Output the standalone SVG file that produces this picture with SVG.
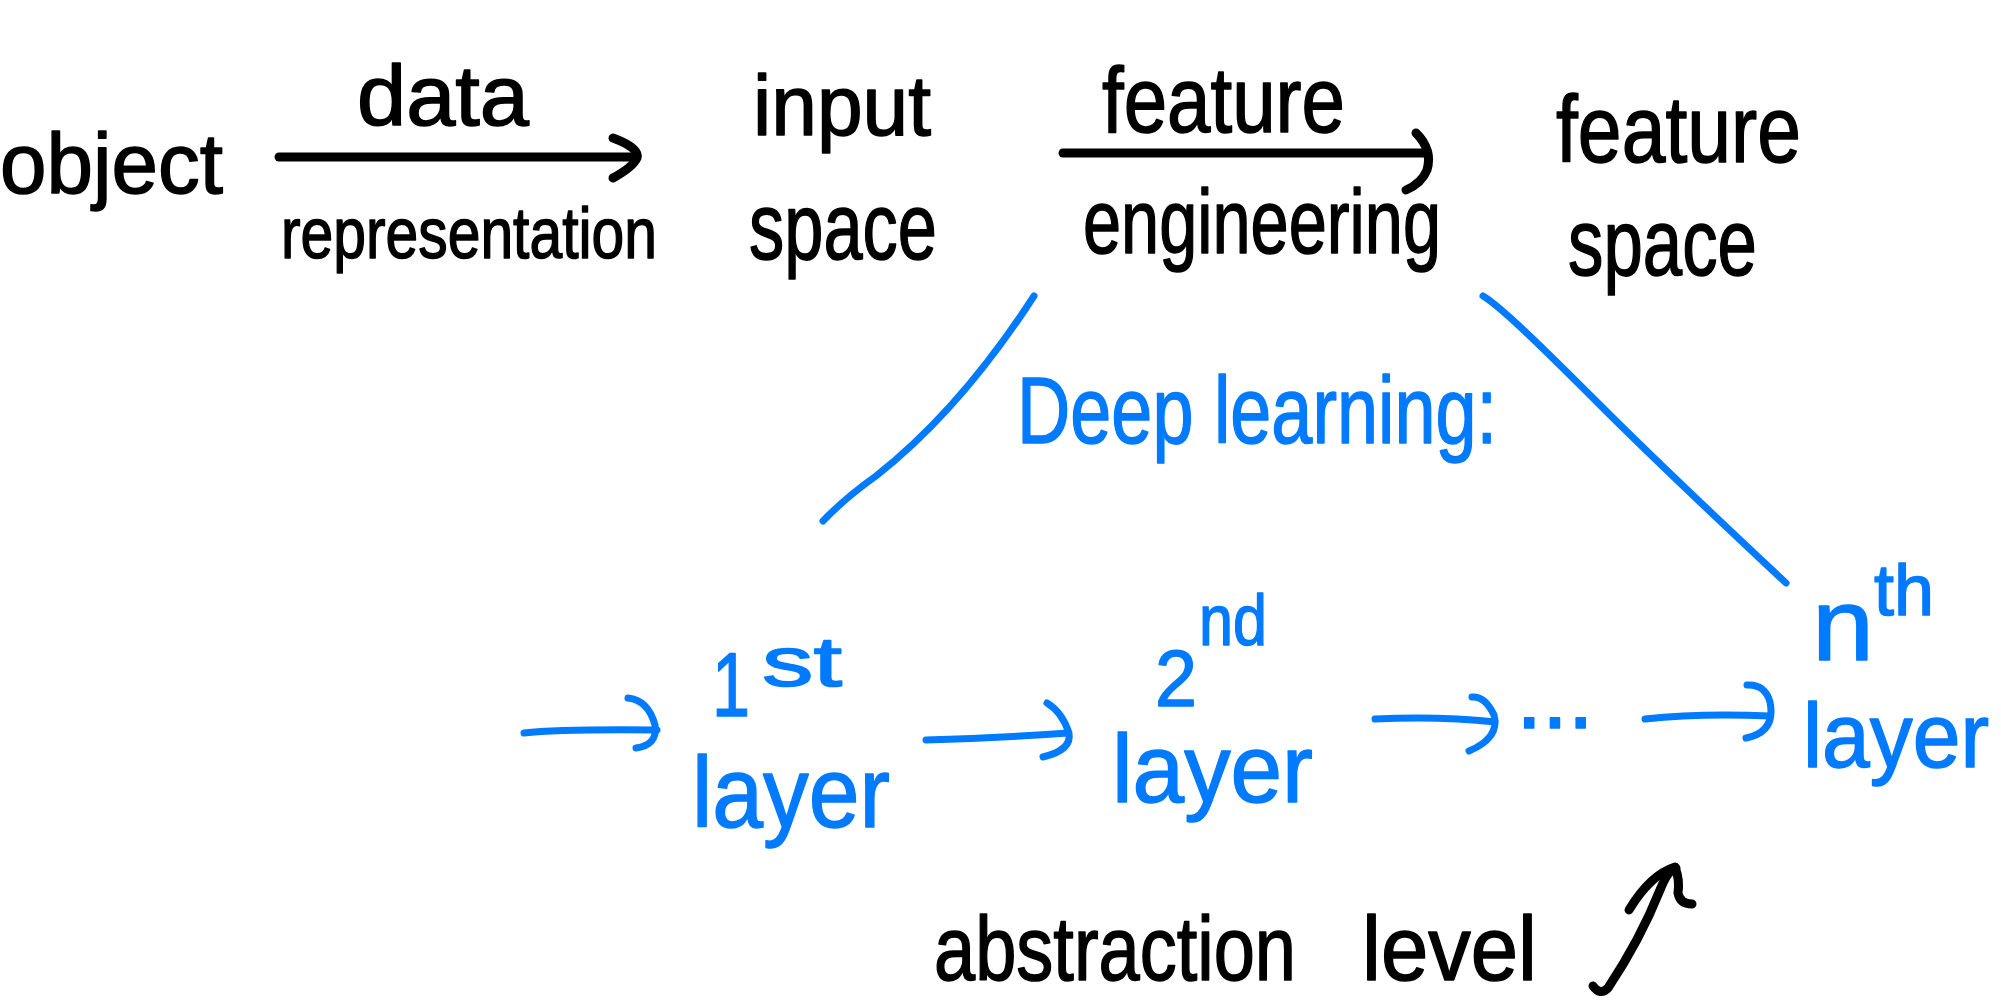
<svg xmlns="http://www.w3.org/2000/svg" width="2001" height="1000" viewBox="0 0 2001 1000">
<style>
.t{font-family:"Liberation Sans",Arial,sans-serif;fill:#000;stroke:#000;stroke-width:1.5;stroke-linejoin:round}
.b{font-family:"Liberation Sans",Arial,sans-serif;fill:#007AFF;stroke:#007AFF;stroke-width:1.5;stroke-linejoin:round}
.k{fill:none;stroke:#000;stroke-width:9;stroke-linecap:round;stroke-linejoin:round}
.bl{fill:none;stroke:#007AFF;stroke-width:7;stroke-linecap:round;stroke-linejoin:round}
</style>
<rect width="2001" height="1000" fill="#fff"/>
<g id="connectors">
  <g id="arrow-data-representation">
    <path class="k" d="M279,157 L632,157"/>
    <path class="k" d="M613,138 Q640,148 637,158 Q633,167 613,178"/>
  </g>
  <g id="arrow-feature-engineering">
    <path class="k" d="M1063,153 L1424,153"/>
    <path class="k" d="M1416,133 Q1433,150 1427,170 Q1422,183 1406,190"/>
  </g>
  <path id="line-left" class="bl" stroke-width="6" d="M1034,296 Q960,410 876,476 Q845,498 823,521"/>
  <path id="line-right" class="bl" stroke-width="6" d="M1483,296 C1500,306 1540,345 1600,405 S1740,540 1786,583"/>
  <g id="arrow-in">
    <path class="bl" d="M524,733 Q560,729 657,730"/>
    <path class="bl" d="M628,698 Q648,700 655,725 Q658,745 636,748"/>
  </g>
  <g id="arrow-1-2">
    <path class="bl" d="M926,740 Q1000,738 1068,733"/>
    <path class="bl" d="M1047,703 Q1062,712 1069,733 Q1072,750 1043,757"/>
  </g>
  <g id="arrow-2-dots">
    <path class="bl" d="M1375,719 Q1440,716 1495,722"/>
    <path class="bl" d="M1472,697 Q1485,696 1494,715 Q1500,738 1469,751"/>
  </g>
  <g id="arrow-dots-n">
    <path class="bl" d="M1645,719 Q1700,713 1770,716"/>
    <path class="bl" d="M1747,685 Q1765,684 1770,702 Q1776,732 1746,738"/>
  </g>
</g>
<g id="object"><text class="t" x="0" y="193" font-size="85" textLength="223" lengthAdjust="spacingAndGlyphs">object</text></g>
<g id="data-representation">
  <text class="t" x="357" y="125" font-size="85" textLength="172" lengthAdjust="spacingAndGlyphs">data</text>
  <text class="t" x="281" y="258" font-size="73" textLength="376" lengthAdjust="spacingAndGlyphs">representation</text>
</g>
<g id="input-space">
  <text class="t" x="753" y="135" font-size="85" textLength="178" lengthAdjust="spacingAndGlyphs">input</text>
  <text class="t" x="749" y="259" font-size="95" textLength="188" lengthAdjust="spacingAndGlyphs">space</text>
</g>
<g id="feature-engineering">
  <text class="t" x="1102" y="132" font-size="92" textLength="243" lengthAdjust="spacingAndGlyphs">feature</text>
  <text class="t" x="1083" y="253" font-size="90" textLength="358" lengthAdjust="spacingAndGlyphs">engineering</text>
</g>
<g id="feature-space">
  <text class="t" x="1556" y="162" font-size="95" textLength="245" lengthAdjust="spacingAndGlyphs">feature</text>
  <text class="t" x="1568" y="275" font-size="95" textLength="189" lengthAdjust="spacingAndGlyphs">space</text>
</g>
<g id="deep-learning"><text class="b" x="1017" y="443" font-size="95" textLength="480" lengthAdjust="spacingAndGlyphs">Deep learning:</text></g>
<g id="layer-1">
  <text class="b" x="712" y="716" font-size="90" textLength="38" lengthAdjust="spacingAndGlyphs">1</text>
  <text class="b" x="762" y="686" font-size="70" textLength="80" lengthAdjust="spacingAndGlyphs">st</text>
  <text class="b" x="692" y="827" font-size="100" textLength="198" lengthAdjust="spacingAndGlyphs">layer</text>
</g>
<g id="layer-2">
  <text class="b" x="1155" y="706" font-size="80" textLength="42" lengthAdjust="spacingAndGlyphs">2</text>
  <text class="b" x="1199" y="645" font-size="72" textLength="68" lengthAdjust="spacingAndGlyphs">nd</text>
  <text class="b" x="1112" y="802" font-size="96" textLength="201" lengthAdjust="spacingAndGlyphs">layer</text>
</g>
<g id="dots"><text class="b" x="1516" y="728" font-size="95" textLength="78" lengthAdjust="spacing">...</text></g>
<g id="layer-n">
  <text class="b" x="1812" y="660" font-size="102" textLength="62" lengthAdjust="spacingAndGlyphs">n</text>
  <text class="b" x="1874" y="615" font-size="72" textLength="60" lengthAdjust="spacingAndGlyphs">th</text>
  <text class="b" x="1803" y="767" font-size="90" textLength="186" lengthAdjust="spacingAndGlyphs">layer</text>
</g>
<g id="abstraction-level">
  <text class="t" x="934" y="980" font-size="90" textLength="362" lengthAdjust="spacingAndGlyphs">abstraction</text>
  <text class="t" x="1362" y="980" font-size="90" textLength="175" lengthAdjust="spacingAndGlyphs">level</text>
  <path class="k" d="M1593,986 Q1600,996 1608,988 Q1640,940 1660,890 Q1668,870 1676,868"/>
  <path class="k" d="M1629,910 Q1650,875 1675,867 Q1680,880 1678,893 Q1680,904 1692,904"/>
</g>
</svg>
